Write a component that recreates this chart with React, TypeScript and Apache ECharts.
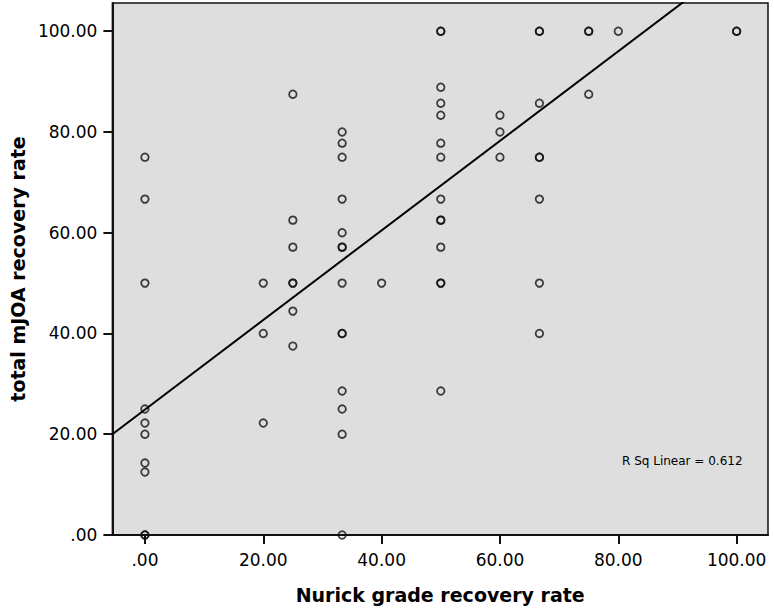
import React, { useEffect, useRef } from "react";
import * as echarts from "echarts";

// Nurick grade recovery rate (x) columns and the total mJOA recovery rates (y) read at each
const nurickLevels = [0, 20, 25, 33.33, 40, 50, 60, 66.67, 75, 80, 100];
const mjoaAt0 = [75, 66.67, 50, 25, 22.22, 20, 14.29, 12.5, 0, 0];
const mjoaAt20 = [50, 40, 22.22];
const mjoaAt25 = [87.5, 62.5, 57.14, 50, 50, 44.44, 37.5];
const mjoaAt33 = [80, 77.78, 75, 66.67, 60, 57.14, 57.14, 50, 40, 40, 28.57, 25, 20, 0];
const mjoaAt40 = [50];
const mjoaAt50 = [100, 100, 88.89, 85.71, 83.33, 77.78, 75, 66.67, 62.5, 62.5, 57.14, 50, 50, 28.57];
const mjoaAt60 = [83.33, 80, 75];
const mjoaAt67 = [100, 100, 85.71, 75, 75, 66.67, 50, 40];
const mjoaAt75 = [100, 100, 87.5];
const mjoaAt80 = [100];
const mjoaAt100 = [100, 100];
const mjoaColumns = [mjoaAt0, mjoaAt20, mjoaAt25, mjoaAt33, mjoaAt40, mjoaAt50, mjoaAt60, mjoaAt67, mjoaAt75, mjoaAt80, mjoaAt100];

// Fit line and its R squared
const fitIntercept = 24.9;
const fitSlope = 0.889;
const rSquared = "0.612";

const tickValues = [0, 20, 40, 60, 80, 100];
const xMin = -5.5;
const xMax = 105.3;
const yMin = 0;
const yMax = 105.6;

const FONT = "DejaVu Sans";

function fmt(v: number) {
  return v === 0 ? ".00" : v.toFixed(2);
}

export default function App() {
  const ref = useRef<HTMLDivElement>(null);
  useEffect(() => {
    if (!ref.current) return;
    const chart = echarts.init(ref.current, null, { renderer: "svg" });
    const points: number[][] = [];
    nurickLevels.forEach((x, i) => {
      mjoaColumns[i].forEach((y) => points.push([x, y]));
    });
    const fitLine = [
      [xMin, fitIntercept + fitSlope * xMin],
      [xMax, fitIntercept + fitSlope * xMax],
    ];
    chart.setOption({
      animation: false,
      backgroundColor: "#ffffff",
      grid: {
        left: 106,
        right: 6,
        top: 3,
        bottom: 76,
        show: true,
        backgroundColor: "#dedede",
        borderColor: "#111",
        borderWidth: 1.5,
      },
      xAxis: {
        type: "value",
        min: xMin,
        max: xMax,
        name: "Nurick grade recovery rate",
        nameLocation: "middle",
        nameGap: 50,
        nameTextStyle: { fontFamily: FONT, fontWeight: "bold", fontSize: 19, color: "#000" },
        splitLine: { show: false },
        axisLine: { show: true, onZero: false, lineStyle: { color: "#111", width: 2 } },
        axisTick: { show: true, length: 9, customValues: tickValues, lineStyle: { color: "#111", width: 2 } },
        axisLabel: {
          customValues: tickValues,
          formatter: fmt,
          margin: 16,
          fontFamily: FONT,
          fontSize: 17,
          color: "#000",
        },
      },
      yAxis: {
        type: "value",
        min: yMin,
        max: yMax,
        name: "total mJOA recovery rate",
        nameLocation: "middle",
        nameGap: 83,
        nameTextStyle: { fontFamily: FONT, fontWeight: "bold", fontSize: 19, color: "#000" },
        splitLine: { show: false },
        axisLine: { show: true, onZero: false, lineStyle: { color: "#111", width: 2 } },
        axisTick: { show: true, length: 9, customValues: tickValues, lineStyle: { color: "#111", width: 2 } },
        axisLabel: {
          customValues: tickValues,
          formatter: fmt,
          margin: 15,
          fontFamily: FONT,
          fontSize: 17,
          color: "#000",
        },
      },
      series: [
        {
          type: "scatter",
          data: points,
          clip: true,
          symbol: "circle",
          symbolSize: 7.5,
          itemStyle: { color: "rgba(0,0,0,0)", borderColor: "#111", borderWidth: 1.8 },
        },
        {
          type: "line",
          data: fitLine,
          clip: true,
          symbol: "none",
          lineStyle: { color: "#000", width: 2 },
        },
      ],
      graphic: [
        {
          type: "text",
          left: 622,
          top: 455,
          style: {
            text: "R Sq Linear = " + rSquared,
            fontFamily: FONT,
            fontSize: 12,
            fill: "#000",
          },
        },
      ],
    });
    return () => chart.dispose();
  }, []);
  return (
    <div
      ref={ref}
      style={{ position: "fixed", left: 0, top: 0, width: 774, height: 611 }}
    />
  );
}
